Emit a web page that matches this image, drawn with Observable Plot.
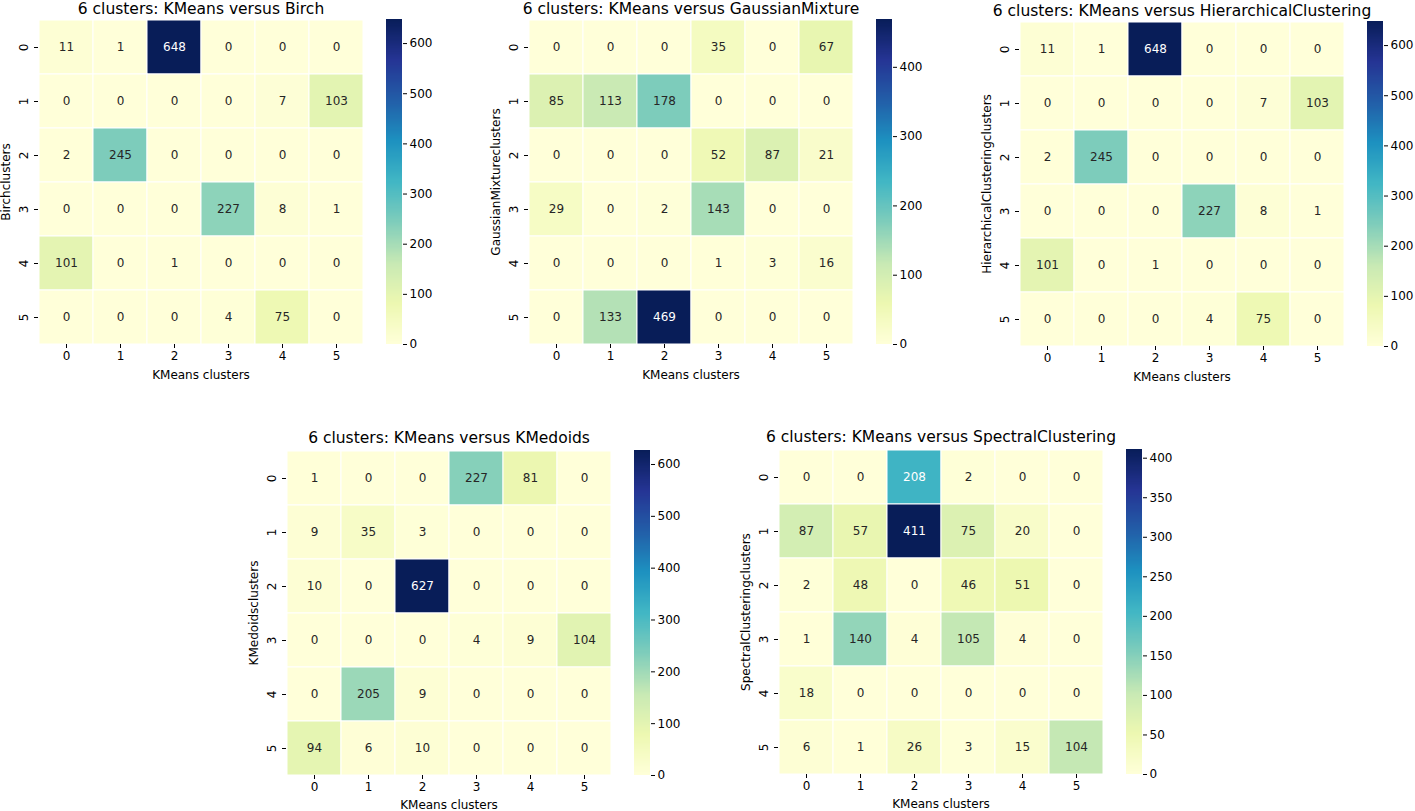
<!DOCTYPE html>
<html><head><meta charset="utf-8">
<script src="https://cdn.jsdelivr.net/npm/d3@7"></script>
<script src="https://cdn.jsdelivr.net/npm/@observablehq/plot@0.6"></script>
<style>
body{margin:0;background:#fff;}
#root{position:relative;width:1415px;height:811px;font-family:"DejaVu Sans",sans-serif;overflow:hidden;}
.panel{position:absolute;}
.panel svg{overflow:visible;max-width:none !important;}
</style></head><body><div id="root"></div>
<script>
// ---- data ----
const rowLabels = ["0","1","2","3","4","5"];
const colLabels = ["0","1","2","3","4","5"];
const xLabel = "KMeans clusters";

const birch = [[11,1,648,0,0,0],[0,0,0,0,7,103],[2,245,0,0,0,0],[0,0,0,227,8,1],[101,0,1,0,0,0],[0,0,0,4,75,0]];
const gaussian = [[0,0,0,35,0,67],[85,113,178,0,0,0],[0,0,0,52,87,21],[29,0,2,143,0,0],[0,0,0,1,3,16],[0,133,469,0,0,0]];
const hierarchical = [[11,1,648,0,0,0],[0,0,0,0,7,103],[2,245,0,0,0,0],[0,0,0,227,8,1],[101,0,1,0,0,0],[0,0,0,4,75,0]];
const kmedoids = [[1,0,0,227,81,0],[9,35,3,0,0,0],[10,0,627,0,0,0],[0,0,0,4,9,104],[0,205,9,0,0,0],[94,6,10,0,0,0]];
const spectral = [[0,0,208,2,0,0],[87,57,411,75,20,0],[2,48,0,46,51,0],[1,140,4,105,4,0],[18,0,0,0,0,0],[6,1,26,3,15,104]];

const titles = ["6 clusters: KMeans versus Birch","6 clusters: KMeans versus GaussianMixture","6 clusters: KMeans versus HierarchicalClustering","6 clusters: KMeans versus KMedoids","6 clusters: KMeans versus SpectralClustering"];
const yLabels = ["Birchclusters","GaussianMixtureclusters","HierarchicalClusteringclusters","KMedoidsclusters","SpectralClusteringclusters"];
const cbTicks600 = [0,100,200,300,400,500,600];
const cbTicks400 = [0,100,200,300,400];
const cbTicks400by50 = [0,50,100,150,200,250,300,350,400];

// ---- layout / style ----
const positions = [{left:38, top:19},{left:528, top:19},{left:1019, top:21},{left:286, top:450},{left:778, top:449}];
const S = 325, ML = 44, MT = 26, MB = 44, CBW = 16, CBGAP = 23, CBR = 50;
const ylgnbuColors = ["#ffffd9","#edf8b1","#c7e9b4","#7fcdbb","#41b6c4","#1d91c0","#225ea8","#253494","#081d58"];
const ylgnbu = d3.piecewise(d3.interpolateRgb, ylgnbuColors);

function lum(c){
  const {r,g,b} = d3.rgb(c);
  const f = x => { x/=255; return x <= 0.03928 ? x/12.92 : Math.pow((x+0.055)/1.055, 2.4); };
  return 0.2126*f(r)+0.7152*f(g)+0.0722*f(b);
}

const root = document.getElementById("root");
const baseStyle = {fontFamily:"DejaVu Sans", fontSize:"12px", color:"#000", background:"transparent", overflow:"visible"};

function place(node, left, top, width, height){
  const d = document.createElement("div");
  d.className = "panel";
  d.style.left = left + "px";
  d.style.top = top + "px";
  d.style.width = width + "px";
  d.style.height = height + "px";
  d.appendChild(node);
  root.appendChild(d);
}

function panel(matrix, title, ylabel, pos, ticks){
  const max = d3.max(matrix.flat());
  const data = matrix.flatMap((row,i)=>row.map((v,j)=>({row: rowLabels[i], col: colLabels[j], v})));
  const cf = d3.scaleSequential(ylgnbu).domain([0,max]);
  const dark = d => lum(cf(d.v)) <= 0.408;
  const color = {type:"linear", domain:[0,max], interpolate: ylgnbu};
  const H = MT + S + MB;
  const titleDy = pos.top < 30 ? -10.5 : -12.5;
  const xlabDy = pos.top > 400 ? 29.5 : 31;

  const heat = Plot.plot({
    width: ML + S, height: H,
    marginLeft: ML, marginRight: 0, marginTop: MT, marginBottom: MB,
    style: baseStyle,
    x: {domain: colLabels, padding: 0, label: null},
    y: {domain: rowLabels, padding: 0, label: null},
    color,
    marks: [
      Plot.cell(data, {x:"col", y:"row", fill:"v", stroke:"white", strokeWidth:1}),
      Plot.text(data.filter(dark), {x:"col", y:"row", text: d=>String(d.v), fill:"white", fontSize:12}),
      Plot.text(data.filter(d=>!dark(d)), {x:"col", y:"row", text: d=>String(d.v), fill:"#262626", fontSize:12}),
      Plot.axisX({anchor:"bottom", tickSize:4, tickPadding:3, label:null, fontSize:12}),
      Plot.axisY({anchor:"left", tickSize:4, tickPadding:7, tickRotate:-90, label:null, fontSize:12}),
      Plot.text([title], {frameAnchor:"top", lineAnchor:"middle", textAnchor:"middle", dy:titleDy, text:d=>d, fontSize:15.5, fill:"#000"}),
      Plot.text([ylabel], {frameAnchor:"left", lineAnchor:"middle", textAnchor:"middle", dx:-32, rotate:-90, text:d=>d, fontSize:12, fill:"#000"}),
      Plot.text([xLabel], {frameAnchor:"bottom", lineAnchor:"middle", textAnchor:"middle", dy:xlabDy, text:d=>d, fontSize:12, fill:"#000"})
    ]
  });
  place(heat, pos.left - ML, pos.top - MT, ML + S, H);

  const n = 300;
  const steps = d3.range(n).map(i => ({y1: i*max/n, y2: (i+1)*max/n}));
  const cb = Plot.plot({
    width: CBW + CBR, height: H,
    marginLeft: 0, marginRight: CBR, marginTop: MT, marginBottom: MB,
    style: baseStyle,
    y: {domain:[0,max], label:null},
    color,
    marks: [
      Plot.rect(steps, {y1:"y1", y2:"y2", fill: d => (d.y1+d.y2)/2, shapeRendering:"crispEdges"}),
      Plot.axisY({anchor:"right", ticks: ticks, tickSize:4, tickPadding:3, label:null, fontSize:12})
    ]
  });
  place(cb, pos.left + S + CBGAP, pos.top - MT, CBW + CBR, H);
}

panel(birch, titles[0], yLabels[0], positions[0], cbTicks600);
panel(gaussian, titles[1], yLabels[1], positions[1], cbTicks400);
panel(hierarchical, titles[2], yLabels[2], positions[2], cbTicks600);
panel(kmedoids, titles[3], yLabels[3], positions[3], cbTicks600);
panel(spectral, titles[4], yLabels[4], positions[4], cbTicks400by50);
</script>
</body></html>
